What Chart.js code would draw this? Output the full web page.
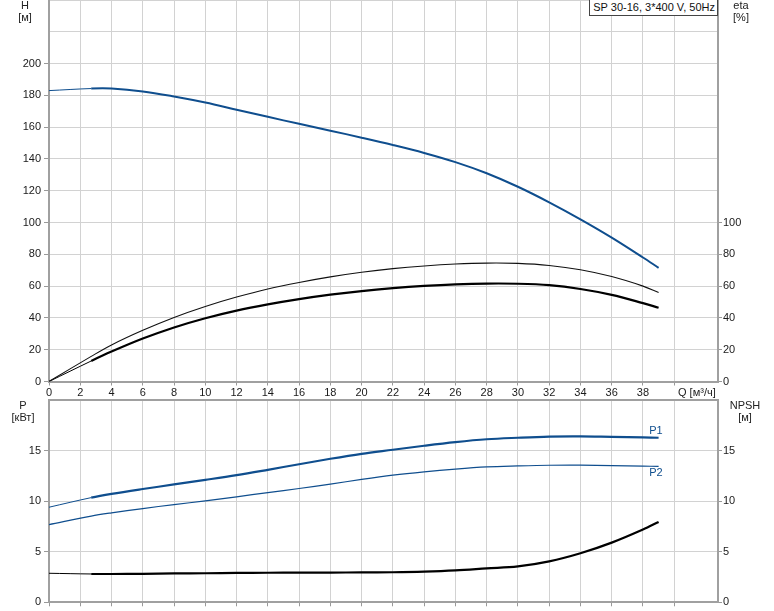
<!DOCTYPE html>
<html>
<head>
<meta charset="utf-8">
<script src="https://cdn.jsdelivr.net/npm/chart.js@4.4.0/dist/chart.umd.min.js"></script>
<style>
  body { margin: 0; background: #fff; font-family: "Liberation Sans", Arial, sans-serif; }
  #wrap { position: relative; width: 774px; height: 611px; overflow: hidden; }
  canvas { position: absolute; left: 0; }
  .lbl { position: absolute; font-size: 11px; color: #222; line-height: 12px; text-align: center; }
  #title { position: absolute; right: 56px; top: -1px; height: 15px; border: 1px solid #444; white-space: nowrap;
           background: #fff; font-size: 11px; line-height: 15px; color: #111; padding: 0 2px 0 3px; }
</style>
</head>
<body>
<div id="wrap">
  <canvas id="topChart" width="774" height="400" style="top:0"></canvas>
  <canvas id="bottomChart" width="774" height="216" style="top:395px"></canvas>
  <div class="lbl" style="left:15px;top:-1px;width:20px">H<br>[м]</div>
  <div class="lbl" style="left:726px;top:-1px;width:30px">eta<br>[%]</div>
  <div class="lbl" style="left:3px;top:399px;width:40px">P<br>[кВт]</div>
  <div class="lbl" style="left:725px;top:399px;width:40px">NPSH<br>[м]</div>
  <div class="lbl" style="left:678px;top:386px;">Q [м³/ч]</div>
  <div id="title">SP 30-16, 3*400 V, 50Hz</div>
</div>
<script>
// flow rate points (m3/h)
const qValues = [0, 2.7, 4, 6, 8, 10, 12, 14, 16, 18, 20, 22, 24, 26, 28, 30, 32, 34, 36, 38, 39];
// head H [m]
const headValues = [183, 184.3, 184.3, 182.5, 179.3, 175.5, 171, 166.5, 162.1, 157.8, 153.4, 148.8, 143.8, 138, 131, 122.5, 112.7, 102, 90.5, 78, 71.5];
// efficiency [%]
const etaPumpValues = [0, 15.8, 23, 32.2, 40.3, 47.2, 53.1, 58.2, 62.3, 65.8, 68.7, 71, 72.7, 73.9, 74.5, 74.3, 73, 70.3, 66, 60, 56];
const etaTotalValues = [0, 12.9, 18.8, 27, 34, 39.8, 44.6, 48.5, 51.8, 54.6, 56.9, 58.7, 60.1, 61.1, 61.6, 61.5, 60.6, 58.2, 54.5, 49.3, 46.4];
// power [kW]
const p1Values = [9.4, 10.35, 10.72, 11.2, 11.65, 12.1, 12.57, 13.1, 13.65, 14.19, 14.68, 15.08, 15.48, 15.84, 16.12, 16.27, 16.38, 16.4, 16.35, 16.3, 16.27];
const p2Values = [7.68, 8.52, 8.84, 9.27, 9.66, 10.03, 10.43, 10.85, 11.25, 11.68, 12.15, 12.57, 12.9, 13.17, 13.38, 13.48, 13.55, 13.56, 13.52, 13.47, 13.43];
// NPSH [m]
const npshValues = [2.87, 2.8, 2.8, 2.82, 2.85, 2.87, 2.9, 2.92, 2.93, 2.94, 2.95, 2.97, 3.03, 3.15, 3.35, 3.55, 4.05, 4.85, 5.9, 7.2, 7.95];

const qMax = 42.8;
const qLastLabel = 38;
const hMax = 240, hLastLabel = 200, etaLastLabel = 100;
const pMax = 20, pLastLabel = 15;

const BLUE = '#0f4e8e';
const GRID = '#d2d2d2';
const AXIS = '#a0a0a0';
const TICK = '#999';
const FONT = { family: '"Liberation Sans", Arial, sans-serif', size: 11 };

function pts(ys) {
  return qValues.map((q, i) => ({ x: q, y: ys[i] }));
}
// thin start before the operating range, thicker after
function thinStart(w) {
  return ctx => ctx.p0.parsed.x < 2.7 ? 1 : w;
}
// keep the plot area fixed, no extra room for edge labels
function fixV(w) {
  return s => { s.width = w; s.paddingTop = 0; s.paddingBottom = 0; };
}

const endLabels = {
  id: 'endLabels',
  afterDatasetsDraw(chart) {
    const ctx = chart.ctx;
    chart.data.datasets.forEach((ds, i) => {
      if (!ds.endLabel) return;
      const meta = chart.getDatasetMeta(i);
      const last = meta.data[meta.data.length - 1];
      ctx.save();
      ctx.font = '11px "Liberation Sans", Arial, sans-serif';
      ctx.fillStyle = ds.borderColor;
      ctx.textAlign = 'right';
      ctx.textBaseline = 'middle';
      ctx.fillText(ds.endLabel, last.x + 4, last.y + ds.endLabelDy);
      ctx.restore();
    });
  }
};

function xScale(showLabels, h) {
  return {
    type: 'linear', min: 0, max: qMax,
    afterBuildTicks: s => { s.ticks = s.ticks.filter(t => t.value % 2 === 0); },
    ticks: {
      stepSize: 2, autoSkip: false, maxRotation: 0, padding: 1, color: '#1a1a1a', font: FONT,
      display: showLabels,
      callback: v => v <= qLastLabel ? v : ''
    },
    grid: { color: GRID, tickLength: 4, tickColor: TICK },
    border: { color: AXIS, width: 2 },
    afterFit: s => { s.height = h; s.paddingLeft = 0; s.paddingRight = 0; }
  };
}

const baseOpts = {
  responsive: false,
  animation: false,
  layout: { padding: 0 },
  plugins: { legend: { display: false }, tooltip: { enabled: false } },
  elements: { point: { radius: 0 }, line: { tension: 0.35 } }
};

new Chart(document.getElementById('topChart'), {
  type: 'line',
  data: {
    datasets: [
      { data: pts(headValues), borderColor: BLUE, borderWidth: 2, segment: { borderWidth: thinStart(2) }, yAxisID: 'y' },
      { data: pts(etaPumpValues), borderColor: '#111', borderWidth: 1.1, yAxisID: 'y2' },
      { data: pts(etaTotalValues), borderColor: '#000', borderWidth: 2.2, segment: { borderWidth: thinStart(2.2) }, yAxisID: 'y2' }
    ]
  },
  options: Object.assign({}, baseOpts, {
    scales: {
      x: xScale(true, 18.5),
      y: {
        min: 0, max: hMax, position: 'left',
        ticks: { stepSize: 20, padding: 3, color: '#1a1a1a', font: FONT, callback: v => v <= hLastLabel ? v : '' },
        grid: { color: GRID, tickLength: 5, tickColor: c => c.tick && c.tick.value > hLastLabel ? 'rgba(0,0,0,0)' : TICK },
        border: { color: AXIS, width: 2 },
        afterFit: fixV(49)
      },
      y2: {
        min: 0, max: hMax, position: 'right',
        afterBuildTicks: s => { s.ticks = s.ticks.filter(t => t.value <= etaLastLabel); },
        ticks: { stepSize: 20, padding: 1, color: '#1a1a1a', font: FONT },
        grid: { drawOnChartArea: false, tickLength: 4, tickColor: TICK },
        border: { color: AXIS, width: 2 },
        afterFit: fixV(56)
      }
    }
  })
});

new Chart(document.getElementById('bottomChart'), {
  type: 'line',
  data: {
    datasets: [
      { data: pts(p1Values), borderColor: BLUE, borderWidth: 2.2, segment: { borderWidth: thinStart(2.2) }, yAxisID: 'y',
        endLabel: 'P1', endLabelDy: -6.5 },
      { data: pts(p2Values), borderColor: BLUE, borderWidth: 1.2, yAxisID: 'y', endLabel: 'P2', endLabelDy: 7 },
      { data: pts(npshValues), borderColor: '#000', borderWidth: 2.2, segment: { borderWidth: thinStart(2.2) }, yAxisID: 'y2' }
    ]
  },
  options: Object.assign({}, baseOpts, {
    layout: { padding: { top: 5 } },
    scales: {
      x: xScale(false, 8.7),
      y: {
        min: 0, max: pMax, position: 'left',
        ticks: { stepSize: 5, padding: 3, color: '#1a1a1a', font: FONT, callback: v => v <= pLastLabel ? v : '' },
        grid: {
          color: c => c.tick && c.tick.value === pMax ? AXIS : GRID,
          lineWidth: c => c.tick && c.tick.value === pMax ? 2 : 1,
          tickLength: 5,
          tickColor: c => c.tick && c.tick.value > pLastLabel ? 'rgba(0,0,0,0)' : TICK
        },
        border: { color: AXIS, width: 2 },
        afterFit: fixV(49)
      },
      y2: {
        min: 0, max: pMax, position: 'right',
        afterBuildTicks: s => { s.ticks = s.ticks.filter(t => t.value <= pLastLabel); },
        ticks: { stepSize: 5, padding: 1, color: '#1a1a1a', font: FONT },
        grid: { drawOnChartArea: false, tickLength: 4, tickColor: TICK },
        border: { color: AXIS, width: 2 },
        afterFit: fixV(56)
      }
    }
  }),
  plugins: [endLabels]
});
</script>
</body>
</html>
